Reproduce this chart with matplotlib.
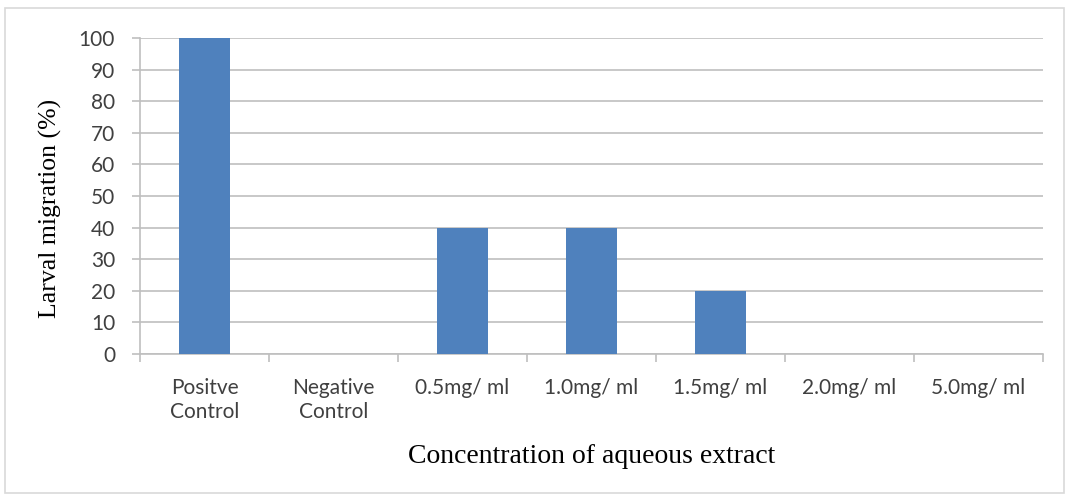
import numpy as np
import matplotlib.pyplot as plt

# larval migration per treatment
categories = ['Positve\nControl', 'Negative\nControl', '0.5mg/ ml', '1.0mg/ ml',
              '1.5mg/ ml', '2.0mg/ ml', '5.0mg/ ml']
migration = [100, 0, 40, 40, 20, 0, 0]
yticks = [0, 10, 20, 30, 40, 50, 60, 70, 80, 90, 100]

fig = plt.figure(figsize=(10.69, 4.97), dpi=100)
ax = fig.add_axes([0.131, 0.2877, 0.8447, 0.6358])

x = np.arange(len(categories))
ax.bar(x, migration, width=0.4, color='#4F81BD', zorder=3)

ax.set_xlim(-0.5, len(categories) - 0.5)
ax.set_ylim(0, 100)
ax.set_yticks(yticks)
ax.yaxis.grid(True, color='#BFBFBF', linewidth=1.2, zorder=0)

ax.set_xticks(x)
ax.set_xticklabels(categories, fontsize=15, family='Lato', color='#404040',
                   linespacing=1.25)
ax.tick_params(axis='x', length=0, pad=17)
ax.set_xticks(np.arange(-0.5, len(categories)), minor=True)
ax.tick_params(axis='x', which='minor', length=6, color='#BFBFBF', width=1.2)
ax.tick_params(axis='y', length=6, color='#BFBFBF', width=1.2, pad=12,
               labelsize=15, labelcolor='#404040')
for lab in ax.get_yticklabels():
    lab.set_family('Lato')

for side in ['top', 'right']:
    ax.spines[side].set_visible(False)
for side in ['left', 'bottom']:
    ax.spines[side].set_color('#BFBFBF')
    ax.spines[side].set_linewidth(1.2)

ax.set_ylabel('Larval migration (%)', family='Liberation Serif', fontsize=18.5)
ax.set_xlabel('Concentration of aqueous extract', family='Liberation Serif',
              fontsize=20)
ax.yaxis.set_label_coords(-0.086, 0.46)
ax.xaxis.set_label_coords(0.5, -0.285)

# outer frame of the chart area
fig.patches.append(plt.Rectangle((0.005, 0.008), 0.99, 0.975, fill=False,
                                 edgecolor='#D9D9D9', linewidth=1.2,
                                 transform=fig.transFigure))

fig.savefig('out.png', dpi=100)
